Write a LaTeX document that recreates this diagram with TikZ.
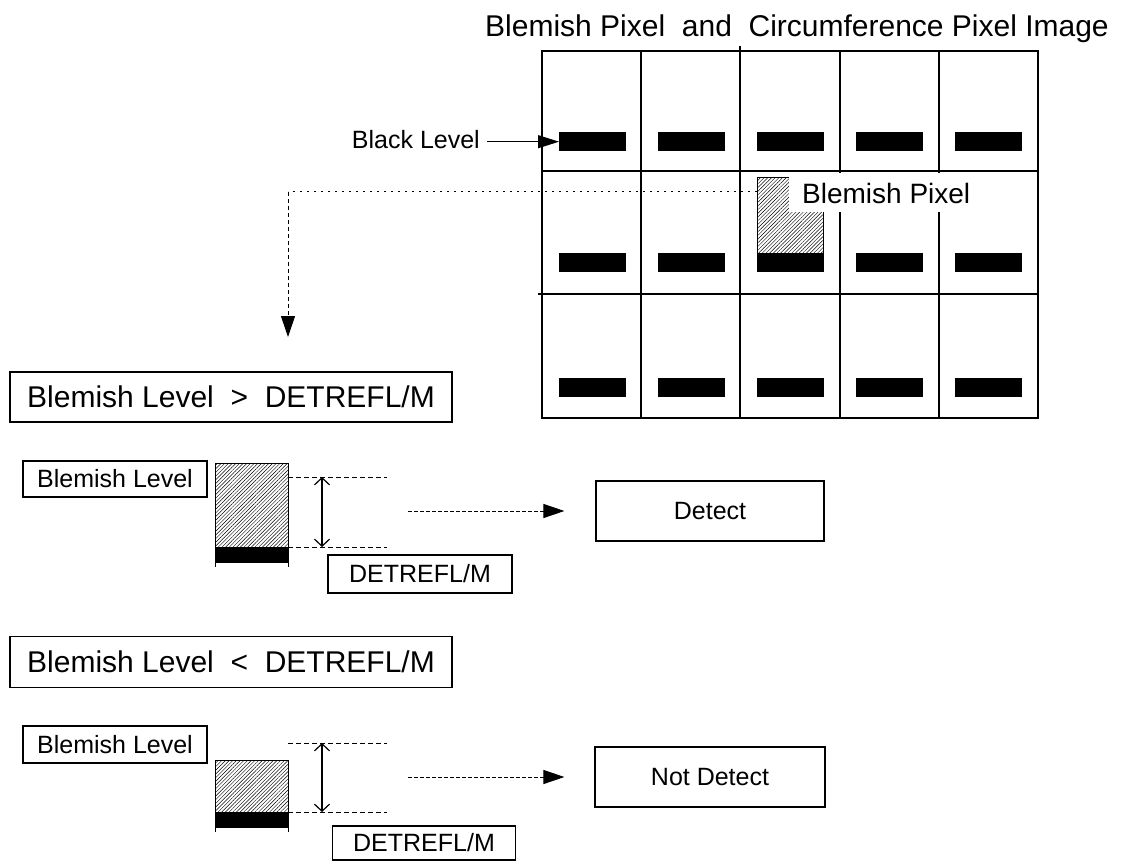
\documentclass[tikz,border=0pt]{standalone}
\usepackage{fontspec}
\setmainfont{Liberation Sans}
\usetikzlibrary{arrows.meta,patterns.meta}
\begin{document}
\begin{tikzpicture}[x=1pt,y=-1pt,
  txt/.style={inner sep=0pt,font=\fontsize{#1}{#1}\selectfont},
  frame/.style={draw,line width=1.2pt,inner sep=0pt},
  bar/.style={fill=black,draw=none,inner sep=0pt,minimum width=67,minimum height=19,anchor=north west},
  hatch/.style={pattern={Lines[angle=45,distance=2.6pt,line width=0.45pt]},draw=black,line width=0.7pt,inner sep=0pt,anchor=north west},
  gridthin/.style={line width=1.2pt},
  dimline/.style={line width=0.9pt,dash pattern=on 5pt off 3pt},
  span/.style={line width=1.2pt,{Straight Barb[length=7pt,width=15pt]}-{Straight Barb[length=7pt,width=15pt]}},
  flow/.style={line width=1pt,dash pattern=on 3.5pt off 2.5pt,-{Triangle[length=21pt,width=14pt]}},
  probe/.style={line width=1pt,dash pattern=on 2pt off 5pt},
  probedown/.style={line width=1pt,dash pattern=on 4pt off 3pt,-{Triangle[length=21pt,width=14pt]}},
  solidarrow/.style={line width=1.2pt,-{Triangle[length=21pt,width=13pt]}}]
\useasboundingbox (0,0) rectangle (1122,861);

% title
\node[txt=30] (title) at (797,29) {Blemish Pixel~~and~~Circumference Pixel Image};

% pixel array
\draw[line width=2.2pt] (542,51) rectangle (1038,418);
\foreach \x in {641,740,840,939} \draw[gridthin] (\x,51) -- (\x,418);
\draw[gridthin] (740,46) -- (740,51);
\draw[gridthin] (542,171) -- (1038,171);
\draw[gridthin] (538,294) -- (1038,294);

% black level of each pixel
\foreach \r/\y in {0/132,1/253,2/378}
  \foreach \c in {0,...,4}
    \node[bar] (b\r\c) at (559+99*\c,\y) {};

% blemish pixel
\node[hatch,minimum width=66,minimum height=76] (blem) at (757,177) {};
\fill[white] (789,173) rectangle (981,212);
\node[txt=28,anchor=west] (blemlbl) at (802,193) {Blemish Pixel};

% black level label
\node[txt=25,anchor=east] (blk) at (480,140) {Black Level};
\draw[solidarrow] ([xshift=7pt]blk.east |- b00.west) -- (b00.west);

% condition boxes
\node[frame,txt=30,minimum width=442,minimum height=50] (cond1) at (231,397)
  {Blemish Level~~>~~DETREFL/M};
\node[frame,txt=30,minimum width=442,minimum height=51] (cond2) at (231,662)
  {Blemish Level~~<~~DETREFL/M};

% probe from the blemish pixel down to the first condition
\coordinate (tap) at (757,192);
\coordinate (turn) at (288,192);
\coordinate (drop) at (288,337);
\draw[probe] (tap) -- (turn);
\draw[probedown] (turn) -- (drop);

% case 1: level above threshold
\node[frame,txt=25,minimum width=184,minimum height=36] (bl1) at (115,479) {Blemish Level};
\node[hatch,minimum width=73,minimum height=84] (h1) at (215,463) {};
\node[bar,minimum width=73,minimum height=16] (k1) at (215,547) {};
\draw[line width=1pt] (k1.north west) -- ++(0,20);
\draw[line width=1pt] (k1.north east) -- ++(0,20);
\coordinate (top1) at (288,477);
\draw[dimline] (top1) -- ++(99,0);
\draw[dimline] (k1.north east) -- ++(99,0);
\draw[span] (322,477) -- (322,547);
\node[frame,txt=25,minimum width=184,minimum height=38] (det1) at (420,574) {DETREFL/M};
\node[frame,txt=25,minimum width=228,minimum height=60] (detect) at (710,511) {Detect};
\coordinate (from1) at (408,511);
\draw[flow,shorten >=31pt] (from1) -- (detect.west);

% case 2: level below threshold
\node[frame,txt=25,minimum width=184,minimum height=37] (bl2) at (115,744.5) {Blemish Level};
\node[hatch,minimum width=73,minimum height=52] (h2) at (215,760) {};
\node[bar,minimum width=73,minimum height=16] (k2) at (215,812) {};
\draw[line width=1pt] (k2.north west) -- ++(0,20);
\draw[line width=1pt] (k2.north east) -- ++(0,20);
\coordinate (top2) at (288,743);
\draw[dimline] (top2) -- ++(99,0);
\draw[dimline] (k2.north east) -- ++(99,0);
\draw[span] (322,743) -- (322,812);
\node[frame,txt=25,minimum width=183,minimum height=34] (det2) at (424,843) {DETREFL/M};
\node[frame,txt=25,minimum width=230,minimum height=60] (notdet) at (710,777) {Not Detect};
\coordinate (from2) at (408,777);
\draw[flow,shorten >=30pt] (from2) -- (notdet.west);
\end{tikzpicture}
\end{document}
